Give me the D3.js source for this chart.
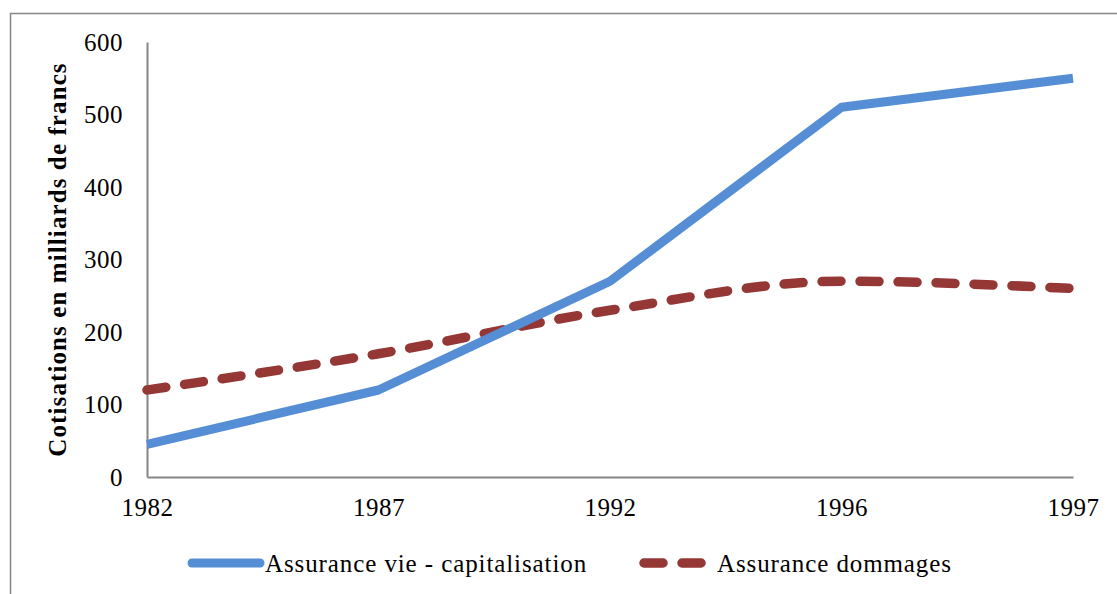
<!DOCTYPE html>
<html>
<head>
<meta charset="utf-8">
<script src="https://cdn.jsdelivr.net/npm/d3@7"></script>
<style>
  body { margin: 0; background: #fff; }
  svg { font-family: "Liberation Serif", serif; }
</style>
</head>
<body>
<div id="vis"></div>
<script>
// data
const YEARS = ["1982", "1987", "1992", "1996", "1997"];
const VIE = [45, 120, 270, 510, 550];
const DOMMAGES = [120, 170, 230, 270, 260];
const Y_TICKS = [0, 100, 200, 300, 400, 500, 600];
const SERIES_NAMES = ["Assurance vie - capitalisation", "Assurance dommages"];

const FRAME_WIDTH = 1117;
const FRAME_HEIGHT = 594;
const MARGINS = {left: 147, right: 44, top: 42, bottom: 117};

const VIS_WIDTH = FRAME_WIDTH - MARGINS.left - MARGINS.right;
const VIS_HEIGHT = FRAME_HEIGHT - MARGINS.top - MARGINS.bottom;

const FONT_SIZE = "25px";

const FRAME = d3.select("#vis")
  .append("svg")
    .attr("width", FRAME_WIDTH)
    .attr("height", FRAME_HEIGHT);

// outer chart border (cropped on right and bottom)
FRAME.append("path")
  .attr("d", "M10.5," + FRAME_HEIGHT + " V13.5 H" + FRAME_WIDTH)
  .attr("fill", "none")
  .attr("stroke", "#868686")
  .attr("stroke-width", 1.5);

const X_SCALE = d3.scalePoint()
  .domain(YEARS)
  .range([0, VIS_WIDTH]);

const Y_SCALE = d3.scaleLinear()
  .domain([0, 600])
  .range([VIS_HEIGHT, 0]);

const G = FRAME.append("g")
  .attr("transform", "translate(" + MARGINS.left + "," + MARGINS.top + ")");

// axes
const yAxis = G.append("g")
  .call(d3.axisLeft(Y_SCALE).tickValues(Y_TICKS).tickSize(0).tickPadding(24));
const xAxis = G.append("g")
  .attr("transform", "translate(0," + VIS_HEIGHT + ")")
  .call(d3.axisBottom(X_SCALE).tickSize(0).tickPadding(21));

[yAxis, xAxis].forEach((ax) => {
  ax.select(".domain").attr("stroke", "#868686").attr("stroke-width", 2);
  ax.selectAll("text")
    .attr("font-family", "Liberation Serif, serif")
    .attr("font-size", FONT_SIZE)
    .attr("letter-spacing", "0.5px")
    .attr("fill", "#000");
});

// y title
G.append("text")
  .attr("transform", "translate(-81," + (VIS_HEIGHT / 2) + ") rotate(-90)")
  .attr("text-anchor", "middle")
  .attr("font-weight", "bold")
  .attr("font-size", FONT_SIZE)
  .attr("letter-spacing", "1.1px")
  .text("Cotisations en milliards de francs");

// lines
const vieLine = d3.line()
  .x((d, i) => X_SCALE(YEARS[i]))
  .y((d) => Y_SCALE(d));

const domLine = d3.line()
  .x((d, i) => X_SCALE(YEARS[i]))
  .y((d) => Y_SCALE(d))
  .curve(d3.curveMonotoneX);

G.append("path")
  .datum(DOMMAGES)
  .attr("d", domLine)
  .attr("fill", "none")
  .attr("stroke", "#953735")
  .attr("stroke-width", 9.5)
  .attr("stroke-dasharray", "19,19")
  .attr("stroke-linecap", "round");

G.append("path")
  .datum(VIE)
  .attr("d", vieLine)
  .attr("fill", "none")
  .attr("stroke", "#558ed5")
  .attr("stroke-width", 9)
  .attr("stroke-linejoin", "round");

// legend
const LEGEND = FRAME.append("g").attr("transform", "translate(0,563)");

LEGEND.append("line")
  .attr("x1", 192).attr("x2", 260)
  .attr("stroke", "#558ed5")
  .attr("stroke-width", 9)
  .attr("stroke-linecap", "round");
LEGEND.append("text")
  .attr("x", 265).attr("y", 9)
  .attr("font-size", FONT_SIZE)
  .attr("letter-spacing", "0.9px")
  .text(SERIES_NAMES[0]);

LEGEND.append("line")
  .attr("x1", 644).attr("x2", 706)
  .attr("stroke", "#953735")
  .attr("stroke-width", 9.5)
  .attr("stroke-dasharray", "19,19")
  .attr("stroke-linecap", "round");
LEGEND.append("text")
  .attr("x", 717).attr("y", 9)
  .attr("font-size", FONT_SIZE)
  .attr("letter-spacing", "0.9px")
  .text(SERIES_NAMES[1]);
</script>
</body>
</html>
